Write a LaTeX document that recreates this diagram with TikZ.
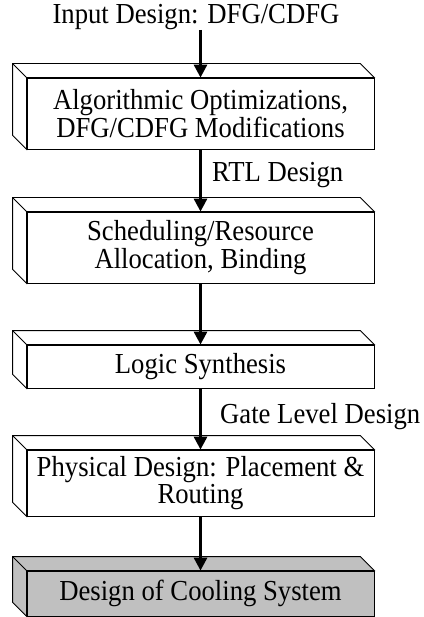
\documentclass[tikz,border=0pt]{standalone}
\usepackage{fontspec}
\setmainfont[FakeStretch=0.92]{Liberation Serif}
\usetikzlibrary{arrows.meta}
\definecolor{coolgray}{RGB}{192,192,192}
\begin{document}
\begin{tikzpicture}
        [x=1pt,y=-1pt,
         stage/.style={draw,line width=0.8pt,minimum width=347pt,inner sep=0pt,
           align=center,font=\fontsize{29}{23.5}\selectfont},
         lbl/.style={inner sep=0pt,font=\fontsize{29}{23.5}\selectfont},
         flow/.style={line width=3pt,-{Triangle[length=13pt,width=13pt]}}]
        \useasboundingbox (0,0) rectangle (423,617);

        \node[lbl] (input) at (196,17) {Input Design: DFG/CDFG};
        \node[stage,fill=white,minimum height=71pt] (algo) at (200.5,113.5)
          {Algorithmic Optimizations,\\DFG/CDFG Modifications};
        \node[stage,fill=white,minimum height=71pt] (sched) at (200.5,247.5)
          {Scheduling/Resource\\Allocation, Binding};
        \node[stage,fill=white,minimum height=43pt] (logic) at (200.5,366.5)
          {Logic Synthesis};
        \node[stage,fill=white,minimum height=66pt] (phys) at (200.5,483)
          {Physical Design: Placement \&\\Routing};
        \node[stage,fill=coolgray,minimum height=45pt] (cool) at (200.5,593.5)
          {Design of Cooling System};

        % top and side faces
        \foreach \n/\c in {algo/white,sched/white,logic/white,phys/white,cool/coolgray}
        {\draw[line width=0.8pt,fill=\c] (\n.south west) -- ++(-14,-14)
            |- ([shift={(-14,-14)}]\n.north east) -- (\n.north east)
            -- (\n.north west) -- cycle;
         \draw[line width=0.8pt] (\n.north west) -- ++(-14,-14);}

        \draw[flow] (algo.north |- input.south) -- (algo.north);
        \draw[flow] (algo.south) -- (sched.north);
        \draw[flow] (sched.south) -- (logic.north);
        \draw[flow] (logic.south) -- (phys.north);
        \draw[flow] (phys.south) -- (cool.north);

        \node[lbl,anchor=base west] (rtl) at (212,182) {RTL Design};
        \node[lbl,anchor=base west] (gate) at (220,423) {Gate Level Design};
      \end{tikzpicture}
\end{document}
